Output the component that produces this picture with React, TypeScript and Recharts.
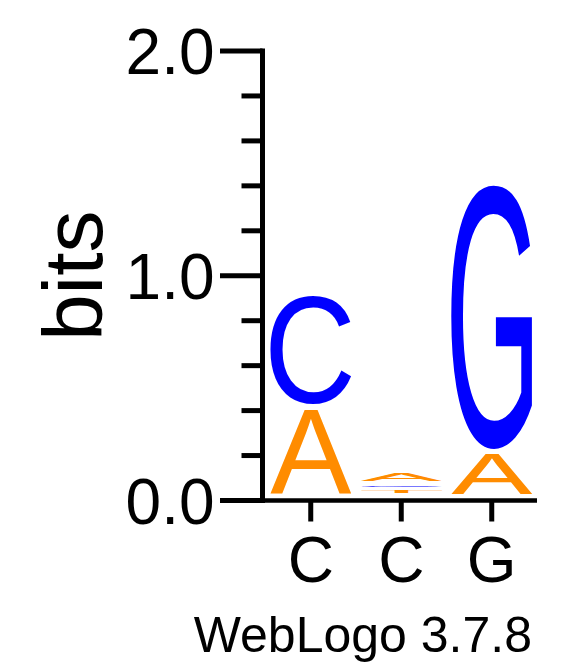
import { Bar, BarChart, XAxis, YAxis } from "recharts";

const positions = [1, 2, 3];
const sequenceLabels = ["C", "C", "G"];
// letters of each column, bottom to top
const stackLetters = [
  ["G", "T", "A", "C"],
  ["G", "T", "C", "A"],
  ["C", "T", "A", "G"],
];
// height (bits) of each letter, same order as stackLetters
const stackBits = [
  [0.009, 0.012, 0.393, 0.504],
  [0.02, 0.032, 0.024, 0.054],
  [0.008, 0.01, 0.2, 1.197],
];
const yTicks = [0, 0.2, 0.4, 0.6, 0.8, 1.0, 1.2, 1.4, 1.6, 1.8, 2.0];

const LETTER_COLORS: Record<string, string> = {
  A: "#FF8C00",
  T: "#FF8C00",
  C: "#0000FF",
  G: "#0000FF",
};
const FONT = '"Liberation Sans", Arial, Helvetica, sans-serif';

const chartData = positions.map((p, i) => {
  const row: Record<string, unknown> = { pos: p, letters: stackLetters[i] };
  stackBits[i].forEach((v, r) => {
    row[`r${r}`] = v;
  });
  return row;
});

// glyph ink box, measured once per letter
const glyphCache: Record<string, { l: number; r: number; a: number; d: number }> = {};
function glyphBox(ch: string) {
  if (glyphCache[ch]) return glyphCache[ch];
  const ctx = document.createElement("canvas").getContext("2d")!;
  ctx.font = `100px ${FONT}`;
  const m = ctx.measureText(ch);
  const box = {
    l: m.actualBoundingBoxLeft,
    r: m.actualBoundingBoxRight,
    a: m.actualBoundingBoxAscent,
    d: m.actualBoundingBoxDescent,
  };
  glyphCache[ch] = box;
  return box;
}

function LetterShape(props: any) {
  const { x, y, width, height, payload, rank } = props;
  if (!payload || height < 5) return null;
  const letter = payload.letters[rank];
  const padY = Math.min(2.5, (height - 1) / 2);
  const padX = 4.75;
  const gx = x + padX;
  const gy = y + padY;
  const gw = width - padX * 2;
  const gh = height - padY * 2;
  const b = glyphBox(letter);
  const sx = gw / (b.l + b.r);
  const sy = gh / (b.a + b.d);
  return (
    <text
      transform={`translate(${gx + b.l * sx},${gy + b.a * sy}) scale(${sx},${sy})`}
      x={0}
      y={0}
      fontSize={100}
      fontFamily={FONT}
      fill={LETTER_COLORS[letter]}
    >
      {letter}
    </text>
  );
}

function YTick(props: any) {
  const { x, y, payload } = props;
  const v = payload.value as number;
  const major = Math.abs(v - Math.round(v)) < 1e-6;
  return (
    <g>
      <line x1={x - (major ? 42.5 : 21)} x2={x} y1={y} y2={y} stroke="#000" strokeWidth={5} />
      {major && (
        <text x={x - 48} y={y + 23} textAnchor="end" fontSize={64} fontFamily={FONT} fill="#000">
          {v.toFixed(1)}
        </text>
      )}
    </g>
  );
}

function XTick(props: any) {
  const { x, y, payload } = props;
  return (
    <g>
      <line x1={x} x2={x} y1={y} y2={y + 21} stroke="#000" strokeWidth={5} />
      <text x={x} y={y + 81.5} textAnchor="middle" fontSize={64} fontFamily={FONT} fill="#000">
        {sequenceLabels[payload.value - 1]}
      </text>
    </g>
  );
}

function BitsLabel(props: any) {
  const vb = props.viewBox || { y: 51, height: 449.5 };
  const cy = vb.y + vb.height / 2;
  return (
    <text
      transform={`translate(102,${cy}) rotate(-90)`}
      textAnchor="middle"
      fontSize={84}
      fontFamily={FONT}
      fill="#000"
    >
      bits
    </text>
  );
}

export default function App() {
  return (
    <div style={{ position: "absolute", left: 0, top: 0, width: 583, height: 667, background: "#fff" }}>
      <BarChart
        width={583}
        height={667}
        data={chartData}
        margin={{ top: 51, right: 46, left: 122.5, bottom: 66.5 }}
        barCategoryGap={0}
        barGap={0}
      >
        <XAxis
          dataKey="pos"
          type="category"
          height={100}
          padding={{ left: 3, right: 0 }}
          tickLine={false}
          tickSize={0}
          tickMargin={0}
          axisLine={{ stroke: "#000", strokeWidth: 4.5 }}
          tick={<XTick />}
          interval={0}
        />
        <YAxis
          type="number"
          domain={[0, 2]}
          ticks={yTicks}
          interval={0}
          width={140}
          tickLine={false}
          tickSize={0}
          tickMargin={0}
          axisLine={{ stroke: "#000", strokeWidth: 5, strokeLinecap: "square" }}
          tick={<YTick />}
          label={<BitsLabel />}
          allowDataOverflow
        />
        {[0, 1, 2, 3].map((r) => (
          <Bar
            key={r}
            dataKey={`r${r}`}
            stackId="logo"
            isAnimationActive={false}
            shape={(p: any) => <LetterShape {...p} rank={r} />}
          />
        ))}
      </BarChart>
      <svg width={583} height={667} style={{ position: "absolute", left: 0, top: 0, pointerEvents: "none" }}>
        <text x={532} y={651.5} textAnchor="end" fontSize={50} fontFamily={FONT} fill="#000">
          WebLogo 3.7.8
        </text>
      </svg>
    </div>
  );
}
